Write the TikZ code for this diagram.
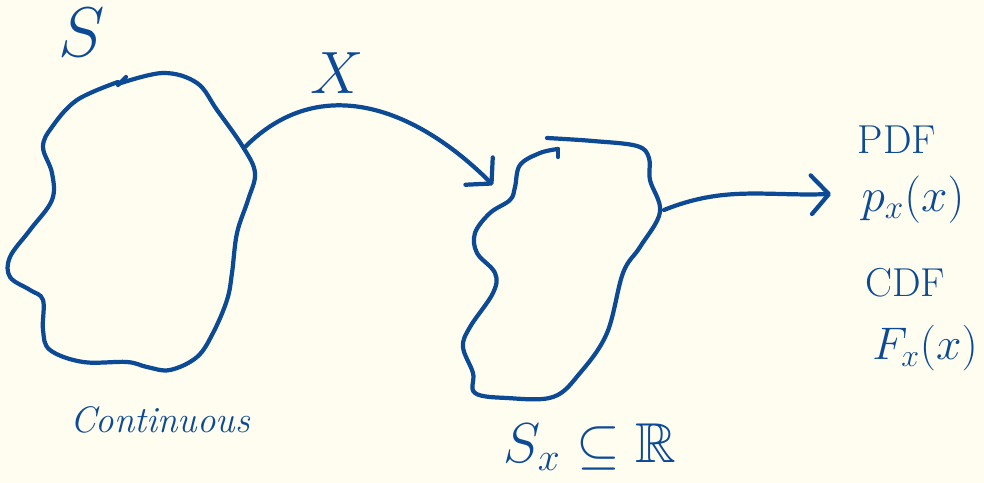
\RequirePackage{fix-cm}
\documentclass[tikz,border=0pt]{standalone}
\usepackage{amssymb}
\usetikzlibrary{arrows.meta}
\definecolor{ink}{RGB}{12,74,150}
\definecolor{paper}{RGB}{255,253,240}
\begin{document}
\begin{tikzpicture}[x=0.02cm,y=-0.02cm,
  inkline/.style={draw=ink, line width=2.4pt, line cap=round, line join=round},
  arrowline/.style={inkline, -{Straight Barb[length=10pt,width=22pt,line cap=round,line join=round]}},
  lbl/.style={text=ink, inner sep=0pt},
  big/.style={lbl, font=\fontsize{40}{40}\selectfont},
  mid/.style={lbl, font=\fontsize{34}{34}\selectfont},
  small/.style={lbl, font=\fontsize{23}{23}\selectfont}]
\fill[paper] (0,0) rectangle (984,483);
\useasboundingbox (0,0) rectangle (984,483);

% blob S
\draw[inkline] plot[smooth, tension=0.6] coordinates {(118,84)(163,73)(197,83)(217,110)(243,147)(255,173)(248,200)(237,233)(232,273)(227,300)(213,333)(197,357)(170,370)(147,367)(127,362)(83,362)(50,350)(43,330)(43,300)(30,290)(10,277)(10,257)(30,230)(52,200)(52,173)(43,147)(52,127)(77,100)(118,82)};
\draw[inkline] (118,85) -- (126,77);

% blob S_X
\draw[inkline] plot[smooth, tension=0.6] coordinates {(547,138)(593,141)(637,146)(649,158)(650,180)(660,212)(640,247)(623,273)(607,333)(580,373)(553,397)(507,398)(475,393)(473,373)(463,347)(470,327)(493,293)(495,273)(477,253)(475,233)(490,213)(510,200)(515,187)(520,165)(540,153)(558,149)};
\draw[inkline] (558,149) -- (558,157);

% connector points
\coordinate (sout) at (245,147);
\coordinate (sxin) at (493,185);
\coordinate (sxout) at (664,210);
\coordinate (pdfin) at (831,194);

\draw[arrowline] (sout) to[out=45, in=135, looseness=1.1] (sxin);
\draw[arrowline] (sxout) to[out=22, in=182] (pdfin);

% labels
\node[big] (S) at (82,32) {$S$};
\node[mid] (X) at (337,73) {$X$};
\node[lbl, font=\fontsize{21}{21}\selectfont\itshape] (cont) at (160,420) {Continuous};
\node[lbl, font=\fontsize{32}{32}\selectfont] (SX) at (590,447) {$S_x\subseteq\mathbb{R}$};
\node[small] (pdf) at (897,140) {PDF};
\node[lbl, font=\fontsize{27}{27}\selectfont] (px) at (913,200) {$p_x(x)$};
\node[small] (cdf) at (905,283) {CDF};
\node[lbl, font=\fontsize{26}{26}\selectfont] (Fx) at (925,348) {$F_x(x)$};
\end{tikzpicture}
\end{document}
